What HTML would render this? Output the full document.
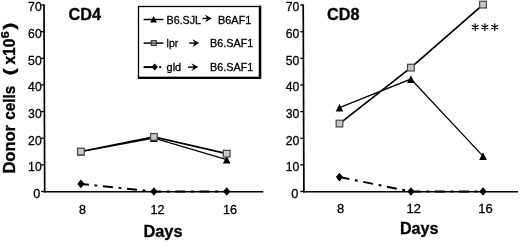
<!DOCTYPE html>
<html><head><meta charset="utf-8"><title>Donor cells</title>
<style>
html,body{margin:0;padding:0;background:#fff;}
svg{display:block;filter:grayscale(1) blur(0.35px);}
text{font-family:"Liberation Sans",sans-serif;fill:#000;}
</style></head>
<body>
<svg width="520" height="242" viewBox="0 0 520 242">
<rect width="520" height="242" fill="#fff"/>
<g transform="translate(14.6,173.4) rotate(-90)"><text x="-0.20" y="0" font-size="15.6" font-weight="bold" textLength="48.60" lengthAdjust="spacingAndGlyphs" stroke="#000" stroke-width="0.35">Donor</text><text x="53.60" y="0" font-size="15.6" font-weight="bold" textLength="34.00" lengthAdjust="spacingAndGlyphs" stroke="#000" stroke-width="0.35">cells</text><text x="98.20" y="0" font-size="16.5" font-weight="bold" textLength="6.80" lengthAdjust="spacingAndGlyphs" stroke="#000" stroke-width="0.35">(</text><text x="108.80" y="0" font-size="15.6" font-weight="bold" textLength="25.90" lengthAdjust="spacingAndGlyphs" stroke="#000" stroke-width="0.35">x10</text><text x="135.20" y="-5.6" font-size="10.5" font-weight="bold" textLength="6.90" lengthAdjust="spacingAndGlyphs" stroke="#000" stroke-width="0.35">6</text><text x="143.80" y="0" font-size="16.5" font-weight="bold" textLength="6.80" lengthAdjust="spacingAndGlyphs" stroke="#000" stroke-width="0.35">)</text></g>
<path d="M44.0,4.419999999999982 L44.699999999999996,192.4" fill="none" stroke="#000" stroke-width="1.7"/>
<path d="M43.9,191.75 H263.3" fill="none" stroke="#000" stroke-width="1.7"/>
<line x1="41.099999999999994" x2="44.3" y1="191.50" y2="191.50" stroke="#000" stroke-width="1.3"/>
<text x="40.3" y="197.80" text-anchor="end" font-size="12.8" stroke="#000" stroke-width="0.3">0</text>
<line x1="41.099999999999994" x2="44.3" y1="164.86" y2="164.86" stroke="#000" stroke-width="1.3"/>
<text x="41.699999999999996" y="171.16" text-anchor="end" font-size="12.8" stroke="#000" stroke-width="0.3" textLength="13.6" lengthAdjust="spacingAndGlyphs">10</text>
<line x1="41.099999999999994" x2="44.3" y1="138.22" y2="138.22" stroke="#000" stroke-width="1.3"/>
<text x="41.699999999999996" y="144.52" text-anchor="end" font-size="12.8" stroke="#000" stroke-width="0.3" textLength="13.6" lengthAdjust="spacingAndGlyphs">20</text>
<line x1="41.099999999999994" x2="44.3" y1="111.58" y2="111.58" stroke="#000" stroke-width="1.3"/>
<text x="41.699999999999996" y="117.88" text-anchor="end" font-size="12.8" stroke="#000" stroke-width="0.3" textLength="13.6" lengthAdjust="spacingAndGlyphs">30</text>
<line x1="41.099999999999994" x2="44.3" y1="84.94" y2="84.94" stroke="#000" stroke-width="1.3"/>
<text x="41.699999999999996" y="91.24" text-anchor="end" font-size="12.8" stroke="#000" stroke-width="0.3" textLength="13.6" lengthAdjust="spacingAndGlyphs">40</text>
<line x1="41.099999999999994" x2="44.3" y1="58.30" y2="58.30" stroke="#000" stroke-width="1.3"/>
<text x="41.699999999999996" y="64.60" text-anchor="end" font-size="12.8" stroke="#000" stroke-width="0.3" textLength="13.6" lengthAdjust="spacingAndGlyphs">50</text>
<line x1="41.099999999999994" x2="44.3" y1="31.66" y2="31.66" stroke="#000" stroke-width="1.3"/>
<text x="41.699999999999996" y="37.96" text-anchor="end" font-size="12.8" stroke="#000" stroke-width="0.3" textLength="13.6" lengthAdjust="spacingAndGlyphs">60</text>
<line x1="41.099999999999994" x2="44.3" y1="5.02" y2="5.02" stroke="#000" stroke-width="1.3"/>
<text x="41.699999999999996" y="11.32" text-anchor="end" font-size="12.8" stroke="#000" stroke-width="0.3" textLength="13.6" lengthAdjust="spacingAndGlyphs">70</text>
<text x="82.6" y="213.8" text-anchor="middle" font-size="12.6" stroke="#000" stroke-width="0.3">8</text>
<text x="157.4" y="213.8" text-anchor="middle" font-size="12.6" stroke="#000" stroke-width="0.3">12</text>
<text x="230" y="213.8" text-anchor="middle" font-size="12.6" stroke="#000" stroke-width="0.3">16</text>
<text x="163.0" y="237.2" text-anchor="middle" font-size="16.5" font-weight="bold" textLength="39.2" lengthAdjust="spacingAndGlyphs" stroke="#000" stroke-width="0.3">Days</text>
<text x="68.5" y="20.1" font-size="16.6" font-weight="bold" textLength="32.6" lengthAdjust="spacingAndGlyphs" stroke="#000" stroke-width="0.3">CD4</text>
<polyline points="80.90,183.91 153.90,191.50 226.70,191.50" fill="none" stroke="#000" stroke-width="2.0" stroke-dasharray="10 5.6 3 5.6" stroke-dashoffset="2"/>
<polyline points="80.90,151.54 153.90,138.22 226.70,159.53" fill="none" stroke="#000" stroke-width="1.3"/>
<polyline points="80.90,151.54 153.90,136.89 226.70,153.67" fill="none" stroke="#000" stroke-width="1.7"/>
<polygon points="80.90,179.61 84.55,183.91 80.90,188.21 77.25,183.91" fill="#000"/>
<polygon points="153.90,187.20 157.55,191.50 153.90,195.80 150.25,191.50" fill="#000"/>
<polygon points="226.70,187.20 230.35,191.50 226.70,195.80 223.05,191.50" fill="#000"/>
<polygon points="80.90,147.64 84.70,155.44 77.10,155.44" fill="#000"/>
<polygon points="153.90,134.32 157.70,142.12 150.10,142.12" fill="#000"/>
<polygon points="226.70,155.63 230.50,163.43 222.90,163.43" fill="#000"/>
<rect x="77.55" y="148.19" width="6.7" height="6.7" fill="#c6c6c6" stroke="#444" stroke-width="1.2"/>
<rect x="150.55" y="133.54" width="6.7" height="6.7" fill="#c6c6c6" stroke="#444" stroke-width="1.2"/>
<rect x="223.35" y="150.32" width="6.7" height="6.7" fill="#c6c6c6" stroke="#444" stroke-width="1.2"/>
<path d="M303.2,4.419999999999982 L303.9,192.4" fill="none" stroke="#000" stroke-width="1.7"/>
<path d="M303.1,191.75 H518" fill="none" stroke="#000" stroke-width="1.7"/>
<line x1="300.3" x2="303.5" y1="191.50" y2="191.50" stroke="#000" stroke-width="1.3"/>
<text x="298.4" y="197.80" text-anchor="end" font-size="12.8" stroke="#000" stroke-width="0.3">0</text>
<line x1="300.3" x2="303.5" y1="164.86" y2="164.86" stroke="#000" stroke-width="1.3"/>
<text x="299.3" y="171.16" text-anchor="end" font-size="12.8" stroke="#000" stroke-width="0.3" textLength="13.6" lengthAdjust="spacingAndGlyphs">10</text>
<line x1="300.3" x2="303.5" y1="138.22" y2="138.22" stroke="#000" stroke-width="1.3"/>
<text x="299.3" y="144.52" text-anchor="end" font-size="12.8" stroke="#000" stroke-width="0.3" textLength="13.6" lengthAdjust="spacingAndGlyphs">20</text>
<line x1="300.3" x2="303.5" y1="111.58" y2="111.58" stroke="#000" stroke-width="1.3"/>
<text x="299.3" y="117.88" text-anchor="end" font-size="12.8" stroke="#000" stroke-width="0.3" textLength="13.6" lengthAdjust="spacingAndGlyphs">30</text>
<line x1="300.3" x2="303.5" y1="84.94" y2="84.94" stroke="#000" stroke-width="1.3"/>
<text x="299.3" y="91.24" text-anchor="end" font-size="12.8" stroke="#000" stroke-width="0.3" textLength="13.6" lengthAdjust="spacingAndGlyphs">40</text>
<line x1="300.3" x2="303.5" y1="58.30" y2="58.30" stroke="#000" stroke-width="1.3"/>
<text x="299.3" y="64.60" text-anchor="end" font-size="12.8" stroke="#000" stroke-width="0.3" textLength="13.6" lengthAdjust="spacingAndGlyphs">50</text>
<line x1="300.3" x2="303.5" y1="31.66" y2="31.66" stroke="#000" stroke-width="1.3"/>
<text x="299.3" y="37.96" text-anchor="end" font-size="12.8" stroke="#000" stroke-width="0.3" textLength="13.6" lengthAdjust="spacingAndGlyphs">60</text>
<line x1="300.3" x2="303.5" y1="5.02" y2="5.02" stroke="#000" stroke-width="1.3"/>
<text x="299.3" y="11.32" text-anchor="end" font-size="12.8" stroke="#000" stroke-width="0.3" textLength="13.6" lengthAdjust="spacingAndGlyphs">70</text>
<text x="340.7" y="213.0" text-anchor="middle" font-size="13" stroke="#000" stroke-width="0.3">8</text>
<text x="413.8" y="213.0" text-anchor="middle" font-size="13" stroke="#000" stroke-width="0.3">12</text>
<text x="485.5" y="213.0" text-anchor="middle" font-size="13" stroke="#000" stroke-width="0.3">16</text>
<text x="419.2" y="234.3" text-anchor="middle" font-size="16.5" font-weight="bold" textLength="38.6" lengthAdjust="spacingAndGlyphs" stroke="#000" stroke-width="0.3">Days</text>
<text x="326.9" y="20.1" font-size="16.6" font-weight="bold" textLength="32.6" lengthAdjust="spacingAndGlyphs" stroke="#000" stroke-width="0.3">CD8</text>
<polyline points="339.50,177.11 410.90,191.50 483.00,191.50" fill="none" stroke="#000" stroke-width="2.0" stroke-dasharray="10 5.6 3 5.6" stroke-dashoffset="0"/>
<polyline points="339.50,107.58 410.90,79.08 483.00,156.07" fill="none" stroke="#000" stroke-width="1.3"/>
<polyline points="339.50,123.57 410.90,67.62 483.00,4.62" fill="none" stroke="#000" stroke-width="1.7"/>
<polygon points="339.50,172.81 343.15,177.11 339.50,181.41 335.85,177.11" fill="#000"/>
<polygon points="410.90,187.20 414.55,191.50 410.90,195.80 407.25,191.50" fill="#000"/>
<polygon points="483.00,187.20 486.65,191.50 483.00,195.80 479.35,191.50" fill="#000"/>
<polygon points="339.50,103.68 343.30,111.48 335.70,111.48" fill="#000"/>
<polygon points="410.90,75.18 414.70,82.98 407.10,82.98" fill="#000"/>
<polygon points="483.00,152.17 486.80,159.97 479.20,159.97" fill="#000"/>
<rect x="336.15" y="120.22" width="6.7" height="6.7" fill="#c6c6c6" stroke="#444" stroke-width="1.2"/>
<rect x="407.55" y="64.27" width="6.7" height="6.7" fill="#c6c6c6" stroke="#444" stroke-width="1.2"/>
<rect x="479.65" y="1.27" width="6.7" height="6.7" fill="#c6c6c6" stroke="#444" stroke-width="1.2"/>
<path d="M475.20,23.75 L475.20,30.45 M472.30,25.43 L478.10,28.78 M478.10,25.43 L472.30,28.78" stroke="#000" stroke-width="1.25" stroke-linecap="round" fill="none"/><path d="M484.90,23.75 L484.90,30.45 M482.00,25.43 L487.80,28.78 M487.80,25.43 L482.00,28.78" stroke="#000" stroke-width="1.25" stroke-linecap="round" fill="none"/><path d="M494.70,23.75 L494.70,30.45 M491.80,25.43 L497.60,28.78 M497.60,25.43 L491.80,28.78" stroke="#000" stroke-width="1.25" stroke-linecap="round" fill="none"/>
<rect x="138.5" y="6.5" width="121" height="71" fill="#fff" stroke="#000" stroke-width="1.3"/>
<path d="M260.1,5.5 V78.8 M137.8,77.9 H261.3" stroke="#000" stroke-width="2.4" fill="none"/>
<polyline points="143.60,19.50 163.40,19.50" fill="none" stroke="#000" stroke-width="1.5"/>
<polygon points="153.60,16.00 157.00,22.60 150.20,22.60" fill="#000"/>
<text x="166.6" y="23.5" font-size="10.5" textLength="34.4" lengthAdjust="spacingAndGlyphs" stroke="#000" stroke-width="0.3">B6.SJL</text>
<path d="M202.5,18.4 H209.3" stroke="#000" stroke-width="1.4" fill="none"/><path d="M211.8,18.4 L204.9,14.599999999999998 L207.3,18.4 L204.9,22.2 Z" fill="#000"/>
<text x="218" y="23.5" font-size="10.5" textLength="33.4" lengthAdjust="spacingAndGlyphs" stroke="#000" stroke-width="0.3">B6AF1</text>
<polyline points="143.60,43.10 163.40,43.10" fill="none" stroke="#000" stroke-width="1.5"/>
<rect x="151.2" y="40.6" width="5.2" height="5" fill="#999" stroke="#333" stroke-width="1"/>
<path d="M151,43.1 H156.6" stroke="#000" stroke-width="1.2" opacity="0.45"/>
<text x="166.6" y="46.7" font-size="10.5" textLength="11.6" lengthAdjust="spacingAndGlyphs" stroke="#000" stroke-width="0.3">lpr</text>
<path d="M189.2,43.1 H196.8" stroke="#000" stroke-width="1.4" fill="none"/><path d="M199.3,43.1 L192.4,39.300000000000004 L194.8,43.1 L192.4,46.9 Z" fill="#000"/>
<text x="210" y="46.7" font-size="10.5" textLength="43.4" lengthAdjust="spacingAndGlyphs" stroke="#000" stroke-width="0.3">B6.SAF1</text>
<polyline points="143.60,67.10 152.60,67.10" fill="none" stroke="#000" stroke-width="2.0"/>
<polygon points="154.70,63.60 157.80,67.10 154.70,70.60 151.60,67.10" fill="#000"/>
<polyline points="159.20,67.10 161.20,67.10" fill="none" stroke="#000" stroke-width="2.0"/>
<text x="166.6" y="70.89999999999999" font-size="10.5" textLength="14.6" lengthAdjust="spacingAndGlyphs" stroke="#000" stroke-width="0.3">gld</text>
<path d="M188,67.1 H195.8" stroke="#000" stroke-width="1.4" fill="none"/><path d="M198.3,67.1 L191.4,63.3 L193.8,67.1 L191.4,70.89999999999999 Z" fill="#000"/>
<text x="210" y="70.89999999999999" font-size="10.5" textLength="43.4" lengthAdjust="spacingAndGlyphs" stroke="#000" stroke-width="0.3">B6.SAF1</text>
</svg>
</body></html>
